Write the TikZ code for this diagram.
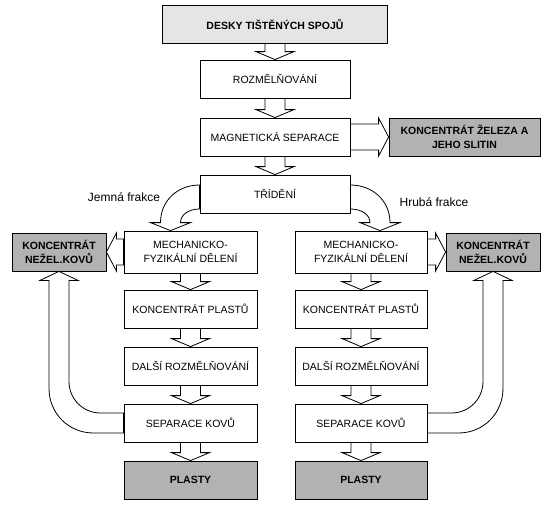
\documentclass[tikz,border=0pt]{standalone}
\usepackage{fontspec}
\setmainfont{Liberation Sans}
\usetikzlibrary{calc}

\begin{document}
\begin{tikzpicture}[x=1pt, y=-1pt,
        every node/.style={font=\fontsize{10.5}{14}\selectfont},
        box/.style={rectangle, draw, line width=0.8pt, fill=white, minimum width=150pt, minimum height=38pt, align=center, inner sep=2pt},
        dark/.style={box, fill=black!30, font=\fontsize{10.5}{14}\selectfont\bfseries},
        blockarrow/.style={draw, line width=0.8pt, fill=white, line join=miter},
        frakce/.style={font=\fontsize{12}{14}\selectfont}
    ]
    \useasboundingbox (0,0) rectangle (550,512);
%
    % Main line
    \node[box, fill=black!10, minimum width=225pt, font=\fontsize{10.5}{14}\selectfont\bfseries] (desky) at (275,24) {DESKY TIŠTĚNÝCH SPOJŮ};
    \node[box] (rozm) at (275,79) {ROZMĚLŇOVÁNÍ};
    \node[box] (magn) at (275,137) {MAGNETICKÁ SEPARACE};
    \node[dark, minimum width=151pt] (zelezo) at (464.5,137) {KONCENTRÁT ŽELEZA A\\JEHO SLITIN};
    \node[box] (trideni) at (275,194) {TŘÍDĚNÍ};
%
    % Fine fraction (left)
    \node[frakce] (jemna) at (124,197) {Jemná frakce};
    \node[box, minimum width=133pt, minimum height=42pt] (lmech) at (190.5,252) {MECHANICKO-\\FYZIKÁLNÍ DĚLENÍ};
    \node[dark, minimum width=94pt] (lkonc) at (59,252) {KONCENTRÁT\\NEŽEL.KOVŮ};
    \node[box, minimum width=133pt] (lplast) at (190.5,309) {KONCENTRÁT PLASTŮ};
    \node[box, minimum width=133pt] (ldalsi) at (190.5,366) {DALŠÍ ROZMĚLŇOVÁNÍ};
    \node[box, minimum width=133pt] (lsep) at (190.5,423) {SEPARACE KOVŮ};
    \node[dark, minimum width=133pt] (lplasty) at (190.5,480) {PLASTY};
%
    % Coarse fraction (right)
    \node[frakce] (hruba) at (434,202) {Hrubá frakce};
    \node[box, minimum width=132pt, minimum height=42pt] (rmech) at (361,252) {MECHANICKO-\\FYZIKÁLNÍ DĚLENÍ};
    \node[dark, minimum width=94pt] (rkonc) at (493,252) {KONCENTRÁT\\NEŽEL.KOVŮ};
    \node[box, minimum width=132pt] (rplast) at (361,309) {KONCENTRÁT PLASTŮ};
    \node[box, minimum width=132pt] (rdalsi) at (361,366) {DALŠÍ ROZMĚLŇOVÁNÍ};
    \node[box, minimum width=132pt] (rsep) at (361,423) {SEPARACE KOVŮ};
    \node[dark, minimum width=132pt] (rplasty) at (361,480) {PLASTY};
%
    % Straight block arrows down
    \foreach \a/\b in {desky/rozm, rozm/magn, magn/trideni, lmech/lplast, lplast/ldalsi, ldalsi/lsep, lsep/lplasty, rmech/rplast, rplast/rdalsi, rdalsi/rsep, rsep/rplasty}
        \draw[blockarrow] ($(\a.south)+(-10,0)$) -- ($(\a.south |- \b.north)+(-10,-8)$) -- ++(-9,0) -- (\a.south |- \b.north) -- ++(19,-8) -- ++(-9,0) -- ($(\a.south)+(10,0)$) -- cycle;
%
    % Block arrows sideways
    \draw[blockarrow] ($(magn.east)+(0,-13)$) -- ($(magn.east -| zelezo.west)+(-10,-13)$) -- ++(0,-6) -- (magn.east -| zelezo.west) -- ++(-10,19) -- ++(0,-6) -- ($(magn.east)+(0,13)$) -- cycle;
    \draw[blockarrow] ($(lmech.west)+(0,-13)$) -- ($(lmech.west -| lkonc.east)+(10,-13)$) -- ++(0,-6) -- (lmech.west -| lkonc.east) -- ++(10,19) -- ++(0,-6) -- ($(lmech.west)+(0,13)$) -- cycle;
    \draw[blockarrow] ($(rmech.east)+(0,-13)$) -- ($(rmech.east -| rkonc.west)+(-10,-13)$) -- ++(0,-6) -- (rmech.east -| rkonc.west) -- ++(-10,19) -- ++(0,-6) -- ($(rmech.east)+(0,13)$) -- cycle;
%
    % Curved arrows from sorting
    \draw[blockarrow] ($(trideni.west)+(0,-9)$) .. controls +(-22,0) and +(0,-22) .. ($(lmech.north)+(-30,-8)$) -- ++(-10,0) -- ($(lmech.north)+(-20,0)$) -- ++(20,-8) -- ++(-10,0) .. controls +(0,-8) and +(-10.7,0) .. ($(trideni.west)+(0,15)$) -- cycle;
    \draw[blockarrow] ($(trideni.east)+(0,-9)$) .. controls +(22,0) and +(0,-22) .. ($(rmech.north)+(29,-8)$) -- ++(10,0) -- ($(rmech.north)+(19,0)$) -- ++(-20,-8) -- ++(10,0) .. controls +(0,-8) and +(11,0) .. ($(trideni.east)+(0,15)$) -- cycle;
%
    % Return arrows to metal concentrate
    \draw[blockarrow] ($(lsep.west)+(0,10)$) -- ++(-30,0) .. controls +(-25,0) and +(0,25) .. ($(lkonc.south)+(-10,117)$) -- ($(lkonc.south)+(-10,9)$) -- ++(-9,0) -- (lkonc.south) -- ++(19,9) -- ++(-9,0) -- ($(lkonc.south)+(10,110)$) .. controls +(0,17.6) and +(-17.6,0) .. ($(lsep.west)+(-23,-10)$) -- ($(lsep.west)+(0,-10)$) -- cycle;
    \draw[blockarrow] ($(rsep.east)+(0,10)$) -- ++(31,0) .. controls +(25,0) and +(0,25) .. ($(rkonc.south)+(10,117)$) -- ($(rkonc.south)+(10,9)$) -- ++(9,0) -- (rkonc.south) -- ++(-19,9) -- ++(9,0) -- ($(rkonc.south)+(-10,110)$) .. controls +(0,17.6) and +(17.6,0) .. ($(rsep.east)+(24,-10)$) -- ($(rsep.east)+(0,-10)$) -- cycle;
%
\end{tikzpicture}
\end{document}
